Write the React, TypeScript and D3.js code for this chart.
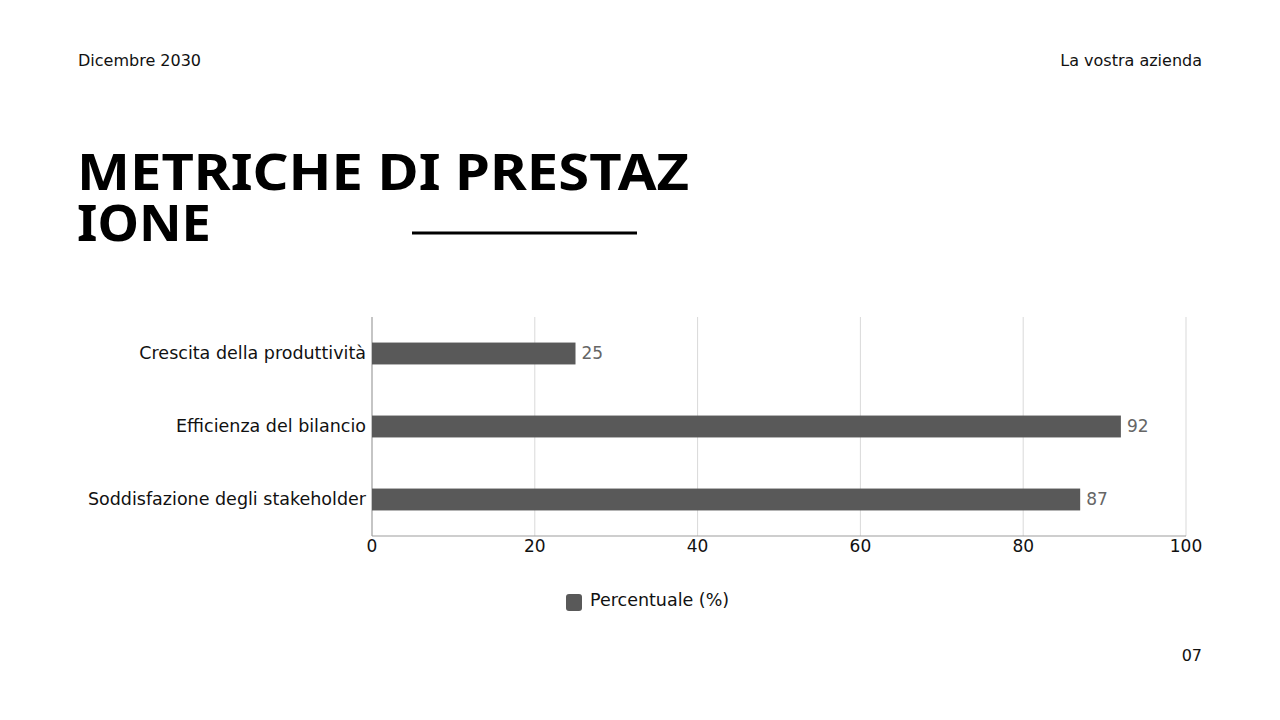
import * as d3 from "d3";

const categories = ["Crescita della produttività", "Efficienza del bilancio", "Soddisfazione degli stakeholder"];
const values = [25, 92, 87];
const ticks = [0, 20, 40, 60, 80, 100];
const seriesName = "Percentuale (%)";
const titleLines = ["METRICHE DI PRESTAZ", "IONE"];

const FONT = "'DejaVu Sans', 'Noto Sans', sans-serif";
const TITLE_FONT = "'Noto Sans', 'DejaVu Sans', sans-serif";
const BAR = "#595959";

export default function App() {
  const width = 1280;
  const height = 720;
  const left = 372;
  const right = 1186;
  const top = 317;
  const bottom = 536;

  const x = d3.scaleLinear().domain([0, 100]).range([left, right]);
  const y = d3.scaleBand<string>().domain(categories).range([top, bottom]).paddingInner(0.7).paddingOuter(0.35);

  return (
    <svg
      width={width}
      height={height}
      style={{ position: "absolute", left: 0, top: 0, background: "#fff" }}
      fontFamily={FONT}
    >
      <rect width={width} height={height} fill="#fff" />
      <text x={78} y={66} fontSize={16} fill="#111">Dicembre 2030</text>
      <text x={1202} y={66} fontSize={16} fill="#111" textAnchor="end">La vostra azienda</text>
      <text x={1202} y={661} fontSize={16} fill="#111" textAnchor="end">07</text>

      <text fontSize={50} fontWeight={700} fill="#000" fontFamily={TITLE_FONT}>
        <tspan x={77} y={190} textLength={612} lengthAdjust="spacingAndGlyphs">{titleLines[0]}</tspan>
        <tspan x={77} y={241} textLength={134} lengthAdjust="spacingAndGlyphs">{titleLines[1]}</tspan>
      </text>
      <line x1={412} x2={637} y1={233} y2={233} stroke="#000" strokeWidth={3} />

      {ticks.map((t) => (
        <g key={t}>
          {t > 0 && <line x1={x(t)} x2={x(t)} y1={top} y2={bottom} stroke="#d9d9d9" strokeWidth={1} />}
          <text x={x(t)} y={552} fontSize={17} fill="#111" textAnchor="middle">{t}</text>
        </g>
      ))}
      <line x1={left} x2={right} y1={bottom} y2={bottom} stroke="#9e9e9e" strokeWidth={1.2} />
      <line x1={left} x2={left} y1={top} y2={bottom} stroke="#9e9e9e" strokeWidth={1.2} />

      {categories.map((c, i) => {
        const yy = y(c)!;
        const bh = y.bandwidth();
        return (
          <g key={c}>
            <rect x={x(0)} y={yy} width={x(values[i]) - x(0)} height={bh} fill={BAR} />
            <text x={x(values[i]) + 6} y={yy + bh / 2} dy="0.3em" fontSize={17} fill="#666">{values[i]}</text>
            <text x={left - 6} y={yy + bh / 2} dy="0.3em" fontSize={17.5} fill="#111" textAnchor="end">{c}</text>
          </g>
        );
      })}

      <rect x={566} y={594} width={16} height={17} rx={3} fill={BAR} />
      <text x={590} y={600} dy="0.35em" fontSize={17.5} fill="#111">{seriesName}</text>
    </svg>
  );
}
